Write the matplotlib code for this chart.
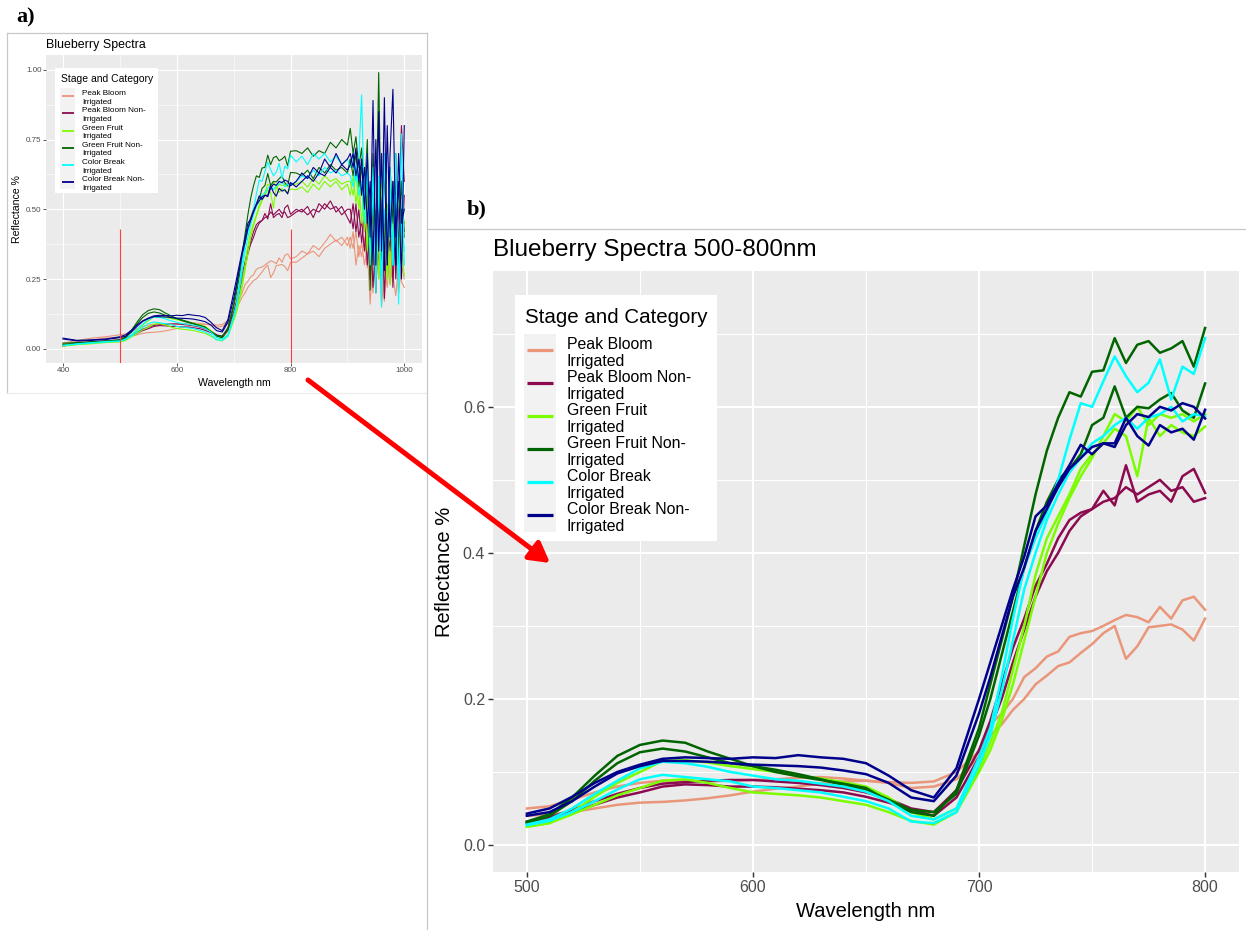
import matplotlib
matplotlib.use("Agg")
import matplotlib.pyplot as plt
from matplotlib.patches import Rectangle, FancyArrowPatch, ArrowStyle
from matplotlib.lines import Line2D
from matplotlib.ticker import FormatStrFormatter
import numpy as np

plt.rcParams['font.family'] = ['Liberation Sans', 'DejaVu Sans']

W, H = 1246, 930

# wavelength grid (nm) shared by all spectra
wavelength = [400, 425, 450, 475,
              500, 510, 520, 530, 540, 550, 560, 570, 580, 590, 600,
              610, 620, 630, 640, 650, 660, 670, 680, 690, 700,
              705, 710, 715, 720, 725, 730, 735, 740, 745, 750,
              755, 760, 765, 770, 775, 780, 785, 790, 795, 800,
              810, 820, 830, 840, 850, 860, 870, 880, 890, 900,
              905, 910, 915, 920, 925, 930, 935, 940, 945, 950,
              955, 960, 965, 970, 975, 980, 985, 990, 995, 1000]

# Peak Bloom, irrigated (two samples)
pb_irr_a = [0.020, 0.030, 0.038, 0.043,
            0.050, 0.053, 0.062, 0.072, 0.080, 0.085, 0.088, 0.088, 0.087, 0.088, 0.089,
            0.090, 0.092, 0.093, 0.091, 0.088, 0.086, 0.085, 0.087, 0.100, 0.128,
            0.165, 0.180, 0.200, 0.230, 0.242, 0.258, 0.265, 0.285, 0.290, 0.293,
            0.300, 0.308, 0.315, 0.312, 0.305, 0.326, 0.310, 0.335, 0.340, 0.322,
            0.330, 0.350, 0.340, 0.370, 0.355, 0.380, 0.410, 0.385, 0.400, 0.370,
            0.40, 0.36, 0.42, 0.33, 0.38, 0.30, 0.36, 0.16, 0.33, 0.28,
            0.38, 0.15, 0.30, 0.22, 0.35, 0.26, 0.19, 0.30, 0.24, 0.22]
pb_irr_b = [0.015, 0.025, 0.032, 0.038,
            0.040, 0.042, 0.045, 0.050, 0.055, 0.058, 0.059, 0.061, 0.064, 0.068, 0.073,
            0.077, 0.080, 0.084, 0.087, 0.088, 0.085, 0.078, 0.080, 0.090, 0.120,
            0.150, 0.165, 0.185, 0.200, 0.220, 0.232, 0.245, 0.250, 0.263, 0.275,
            0.290, 0.300, 0.255, 0.272, 0.298, 0.300, 0.302, 0.295, 0.280, 0.310,
            0.310, 0.325, 0.340, 0.350, 0.330, 0.360, 0.375, 0.390, 0.370, 0.400,
            0.36, 0.42, 0.30, 0.37, 0.33, 0.40, 0.29, 0.34, 0.20, 0.37,
            0.25, 0.32, 0.17, 0.35, 0.23, 0.30, 0.36, 0.20, 0.30, 0.25]

# Peak Bloom, non-irrigated
pb_non_a = [0.010, 0.020, 0.025, 0.028,
            0.032, 0.038, 0.048, 0.060, 0.070, 0.078, 0.084, 0.086, 0.088, 0.089, 0.089,
            0.087, 0.085, 0.082, 0.078, 0.072, 0.063, 0.050, 0.045, 0.075, 0.130,
            0.170, 0.220, 0.270, 0.310, 0.355, 0.385, 0.420, 0.445, 0.455, 0.460,
            0.485, 0.465, 0.520, 0.470, 0.480, 0.485, 0.470, 0.505, 0.515, 0.482,
            0.50, 0.49, 0.51, 0.47, 0.52, 0.50, 0.53, 0.49, 0.51, 0.47,
            0.45, 0.52, 0.42, 0.50, 0.38, 0.48, 0.30, 0.45, 0.22, 0.40,
            0.30, 0.55, 0.18, 0.45, 0.35, 0.60, 0.25, 0.50, 0.80, 0.60]
pb_non_b = [0.010, 0.018, 0.022, 0.026,
            0.030, 0.035, 0.045, 0.055, 0.065, 0.072, 0.080, 0.083, 0.082, 0.080, 0.080,
            0.079, 0.077, 0.075, 0.072, 0.066, 0.058, 0.048, 0.040, 0.065, 0.120,
            0.160, 0.200, 0.250, 0.295, 0.340, 0.375, 0.400, 0.430, 0.450, 0.460,
            0.470, 0.475, 0.490, 0.480, 0.490, 0.500, 0.485, 0.490, 0.470, 0.475,
            0.49, 0.50, 0.48, 0.50, 0.49, 0.52, 0.50, 0.51, 0.48, 0.50,
            0.50, 0.43, 0.52, 0.40, 0.46, 0.35, 0.48, 0.25, 0.42, 0.20,
            0.50, 0.35, 0.45, 0.30, 0.55, 0.22, 0.50, 0.40, 0.30, 0.55]

# Green Fruit, irrigated
gf_irr_a = [0.010, 0.015, 0.020, 0.025,
            0.025, 0.030, 0.045, 0.066, 0.085, 0.100, 0.115, 0.116, 0.113, 0.108, 0.104,
            0.100, 0.095, 0.091, 0.086, 0.080, 0.065, 0.045, 0.035, 0.050, 0.105,
            0.140, 0.180, 0.240, 0.300, 0.370, 0.420, 0.450, 0.480, 0.515, 0.535,
            0.550, 0.570, 0.560, 0.505, 0.585, 0.560, 0.575, 0.565, 0.560, 0.573,
            0.57, 0.58, 0.56, 0.59, 0.57, 0.60, 0.58, 0.60, 0.57, 0.59,
            0.55, 0.62, 0.52, 0.60, 0.45, 0.58, 0.35, 0.55, 0.30, 0.50,
            0.25, 0.60, 0.40, 0.52, 0.23, 0.48, 0.35, 0.55, 0.40, 0.26]
gf_irr_b = [0.010, 0.015, 0.018, 0.022,
            0.025, 0.030, 0.042, 0.055, 0.068, 0.078, 0.088, 0.090, 0.085, 0.078, 0.072,
            0.070, 0.068, 0.065, 0.060, 0.055, 0.045, 0.033, 0.028, 0.045, 0.100,
            0.130, 0.170, 0.220, 0.280, 0.340, 0.400, 0.440, 0.475, 0.505, 0.530,
            0.560, 0.590, 0.580, 0.600, 0.575, 0.590, 0.585, 0.590, 0.580, 0.590,
            0.59, 0.60, 0.58, 0.61, 0.59, 0.62, 0.60, 0.61, 0.59, 0.60,
            0.60, 0.55, 0.63, 0.50, 0.60, 0.42, 0.55, 0.30, 0.50, 0.38,
            0.58, 0.30, 0.50, 0.25, 0.55, 0.35, 0.60, 0.30, 0.50, 0.45]

# Green Fruit, non-irrigated
gf_non_a = [0.020, 0.022, 0.025, 0.028,
            0.032, 0.042, 0.065, 0.095, 0.122, 0.137, 0.143, 0.140, 0.128, 0.118, 0.108,
            0.100, 0.094, 0.089, 0.084, 0.078, 0.060, 0.045, 0.040, 0.075, 0.160,
            0.220, 0.280, 0.340, 0.410, 0.480, 0.540, 0.585, 0.620, 0.614, 0.648,
            0.650, 0.694, 0.660, 0.685, 0.690, 0.674, 0.680, 0.690, 0.655, 0.708,
            0.71, 0.70, 0.72, 0.69, 0.71, 0.70, 0.74, 0.72, 0.75, 0.73,
            0.79, 0.70, 0.76, 0.65, 0.72, 0.55, 0.75, 0.21, 0.60, 0.40,
            0.99, 0.35, 0.70, 0.30, 0.65, 0.45, 0.70, 0.30, 0.60, 0.42]
gf_non_b = [0.015, 0.020, 0.023, 0.026,
            0.030, 0.040, 0.060, 0.088, 0.112, 0.127, 0.132, 0.128, 0.120, 0.112, 0.108,
            0.103, 0.097, 0.090, 0.082, 0.075, 0.062, 0.048, 0.045, 0.070, 0.150,
            0.200, 0.260, 0.320, 0.380, 0.430, 0.470, 0.500, 0.515, 0.535, 0.575,
            0.585, 0.628, 0.585, 0.600, 0.598, 0.610, 0.619, 0.595, 0.585, 0.632,
            0.63, 0.62, 0.64, 0.61, 0.65, 0.63, 0.66, 0.64, 0.65, 0.63,
            0.68, 0.62, 0.70, 0.58, 0.65, 0.50, 0.62, 0.30, 0.70, 0.35,
            0.60, 0.25, 0.65, 0.40, 0.55, 0.30, 0.60, 0.35, 0.50, 0.40]

# Color Break, irrigated
cb_irr_a = [0.012, 0.018, 0.022, 0.026,
            0.028, 0.035, 0.050, 0.070, 0.088, 0.105, 0.114, 0.112, 0.107, 0.100, 0.095,
            0.090, 0.088, 0.084, 0.080, 0.073, 0.060, 0.040, 0.035, 0.050, 0.120,
            0.160, 0.230, 0.310, 0.380, 0.420, 0.455, 0.500, 0.555, 0.605, 0.600,
            0.635, 0.669, 0.642, 0.620, 0.633, 0.665, 0.610, 0.655, 0.645, 0.694,
            0.67, 0.69, 0.66, 0.70, 0.68, 0.70, 0.67, 0.69, 0.66, 0.68,
            0.65, 0.70, 0.60, 0.68, 0.91, 0.50, 0.70, 0.30, 0.65, 0.20,
            0.60, 0.15, 0.70, 0.35, 0.60, 0.30, 0.70, 0.16, 0.77, 0.30]
cb_irr_b = [0.012, 0.016, 0.020, 0.024,
            0.027, 0.033, 0.045, 0.060, 0.076, 0.090, 0.096, 0.093, 0.090, 0.087, 0.080,
            0.078, 0.075, 0.072, 0.066, 0.060, 0.050, 0.032, 0.030, 0.045, 0.110,
            0.150, 0.210, 0.280, 0.350, 0.400, 0.445, 0.480, 0.510, 0.530, 0.550,
            0.560, 0.575, 0.585, 0.570, 0.585, 0.590, 0.600, 0.580, 0.590, 0.587,
            0.60, 0.62, 0.61, 0.64, 0.62, 0.65, 0.63, 0.64, 0.62, 0.63,
            0.62, 0.58, 0.66, 0.55, 0.60, 0.45, 0.65, 0.40, 0.55, 0.30,
            0.62, 0.25, 0.50, 0.40, 0.65, 0.30, 0.55, 0.25, 0.45, 0.35]

# Color Break, non-irrigated
cb_non_a = [0.038, 0.030, 0.032, 0.035,
            0.043, 0.050, 0.066, 0.085, 0.100, 0.110, 0.118, 0.120, 0.119, 0.118, 0.120,
            0.119, 0.123, 0.120, 0.118, 0.112, 0.095, 0.075, 0.065, 0.105, 0.200,
            0.250, 0.300, 0.350, 0.395, 0.450, 0.465, 0.495, 0.520, 0.548, 0.535,
            0.550, 0.545, 0.575, 0.590, 0.586, 0.600, 0.595, 0.605, 0.600, 0.584,
            0.60, 0.63, 0.61, 0.65, 0.63, 0.68, 0.65, 0.70, 0.66, 0.68,
            0.70, 0.65, 0.72, 0.60, 0.68, 0.50, 0.70, 0.40, 0.89, 0.30,
            0.85, 0.35, 0.90, 0.30, 0.70, 0.93, 0.40, 0.60, 0.25, 0.80]
cb_non_b = [0.035, 0.028, 0.030, 0.033,
            0.040, 0.045, 0.060, 0.080, 0.098, 0.108, 0.115, 0.115, 0.114, 0.112, 0.110,
            0.109, 0.108, 0.106, 0.102, 0.097, 0.085, 0.065, 0.060, 0.095, 0.180,
            0.230, 0.285, 0.340, 0.380, 0.430, 0.460, 0.490, 0.515, 0.530, 0.545,
            0.550, 0.550, 0.585, 0.560, 0.547, 0.575, 0.565, 0.570, 0.555, 0.596,
            0.58, 0.60, 0.62, 0.60, 0.63, 0.62, 0.65, 0.63, 0.66, 0.64,
            0.66, 0.70, 0.62, 0.68, 0.55, 0.65, 0.45, 0.60, 0.30, 0.75,
            0.35, 0.70, 0.28, 0.80, 0.40, 0.60, 0.30, 0.70, 0.45, 0.50]

categories = [("Peak Bloom", "Irrigated"), ("Peak Bloom Non-", "Irrigated"),
              ("Green Fruit", "Irrigated"), ("Green Fruit Non-", "Irrigated"),
              ("Color Break", "Irrigated"), ("Color Break Non-", "Irrigated")]
colors = ["#E9967A", "#8B0A50", "#7CFC00", "#006400", "#00FFFF", "#00008B"]
samples = [[pb_irr_a, pb_irr_b], [pb_non_a, pb_non_b], [gf_irr_a, gf_irr_b],
           [gf_non_a, gf_non_b], [cb_irr_a, cb_irr_b], [cb_non_a, cb_non_b]]


def fbox(x0, y0, x1, y1):
    return [x0 / W, 1 - y1 / H, (x1 - x0) / W, (y1 - y0) / H]


def fx(x):
    return x / W


def fy(y):
    return 1 - y / H


def ftext(x, y, s, **kw):
    fig.text(fx(x), fy(y), s, **kw)


def fline(xs, ys, **kw):
    fig.add_artist(Line2D([fx(v) for v in xs], [fy(v) for v in ys],
                          transform=fig.transFigure, **kw))


def frect(x0, y0, x1, y1, **kw):
    fig.add_artist(Rectangle((fx(x0), fy(y1)), (x1 - x0) / W, (y1 - y0) / H,
                             transform=fig.transFigure, **kw))


def style_axes(ax, major_lw, minor_lw, tick_len, tick_size, pad):
    ax.set_facecolor('#EBEBEB')
    for s in ax.spines.values():
        s.set_visible(False)
    ax.set_axisbelow(True)
    ax.grid(which='major', color='white', lw=major_lw)
    ax.grid(which='minor', color='white', lw=minor_lw)
    ax.tick_params(which='major', length=tick_len, width=tick_len / 3.5,
                   color='#333333', labelsize=tick_size, labelcolor='#4D4D4D', pad=pad)
    ax.tick_params(which='minor', length=0)


def draw_legend(box, title_pos, title_size, key_col, key_x, key_y0, step,
                key_lw, label_x, label_size, dy1, dy2):
    frect(*box, facecolor='white', edgecolor='none', zorder=5)
    ftext(title_pos[0], title_pos[1], "Stage and Category", size=title_size,
          va='baseline', zorder=6)
    frect(*key_col, facecolor='#F2F2F2', edgecolor='none', zorder=6)
    for i, ((l1, l2), c) in enumerate(zip(categories, colors)):
        ky = key_y0 + step * i
        fline(key_x, [ky, ky], color=c, lw=key_lw, solid_capstyle='butt', zorder=7)
        ftext(label_x, ky + dy1, l1, size=label_size, va='baseline', zorder=7)
        ftext(label_x, ky + dy2, l2, size=label_size, va='baseline', zorder=7)


fig = plt.figure(figsize=(W / 100, H / 100), dpi=100)
wl = np.array(wavelength)

# ---- panel a: full range 400-1000 nm ----
ax_a = fig.add_axes(fbox(45.7, 55, 421.7, 362.7))
for c, reps in zip(colors, samples):
    for r in reps:
        ax_a.plot(wl, r, color=c, lw=0.8)
ax_a.vlines([500, 800], -0.05, 0.428, color='#FF3B3B', lw=0.8, zorder=5)
ax_a.set_xlim(369.6, 1030.6)
ax_a.set_ylim(-0.05, 1.053)
ax_a.set_xticks([400, 600, 800, 1000])
ax_a.set_xticks([500, 700, 900], minor=True)
ax_a.set_yticks([0, 0.25, 0.5, 0.75, 1.0])
ax_a.set_yticks([0.125, 0.375, 0.625, 0.875], minor=True)
ax_a.yaxis.set_major_formatter(FormatStrFormatter('%.2f'))
style_axes(ax_a, 0.8, 0.4, 2.0, 5.8, 1.0)

ftext(46, 47.7, "Blueberry Spectra", size=8.9, va='baseline')
ftext(234, 386.5, "Wavelength nm", size=7.6, ha='center', va='baseline')
ftext(16.7, 209, "Reflectance %", size=7.6, rotation=90, ha='center', va='center')

draw_legend((55, 68, 158, 193), (61, 81.7), 7.5, (60, 88, 75, 189), [62, 74],
            96, 17.25, 1.3, 82, 5.9, -1, 7.5)

# ---- panel b: zoom on 500-800 nm ----
ax_b = fig.add_axes(fbox(493, 271, 1239, 872))
sel = (wl >= 500) & (wl <= 800)
for c, reps in zip(colors, samples):
    for r in reps:
        ax_b.plot(wl[sel], np.array(r)[sel], color=c, lw=1.8)
ax_b.set_xlim(485, 815)
ax_b.set_ylim(-0.037, 0.786)
ax_b.set_xticks([500, 600, 700, 800])
ax_b.set_xticks([550, 650, 750], minor=True)
ax_b.set_yticks([0, 0.2, 0.4, 0.6])
ax_b.set_yticks([0.1, 0.3, 0.5, 0.7], minor=True)
ax_b.yaxis.set_major_formatter(FormatStrFormatter('%.1f'))
style_axes(ax_b, 1.5, 0.75, 3.6, 11.5, 2.0)

ftext(493, 256, "Blueberry Spectra 500-800nm", size=17.5, va='baseline')
ftext(866, 917, "Wavelength nm", size=14.5, ha='center', va='baseline')
ftext(445, 571.5, "Reflectance %", size=14.5, rotation=90, ha='center', va='center')

draw_legend((515, 295, 717, 541), (525, 323.3), 14.8, (524, 334, 556, 532), [527, 553],
            350.3, 33, 2.3, 567, 11.4, -1, 15.7)

# ---- panel frames, labels and arrow ----
fline([7, 427.5], [33, 33], color='#C8C8C8', lw=0.9)
fline([7, 7], [33, 393], color='#C8C8C8', lw=0.9)
fline([7, 427.5], [393, 393], color='#EEEEEE', lw=0.9)
fline([427.5, 427.5], [33, 930], color='#C8C8C8', lw=0.9)
fline([427.5, 1246], [229, 229], color='#C8C8C8', lw=0.9)

ftext(26, 17, "a)", family='Liberation Serif', weight='bold', size=16, ha='center', va='center')
ftext(477, 209, "b)", family='Liberation Serif', weight='bold', size=16, ha='center', va='center')

arrow = FancyArrowPatch((fx(308), fy(380)), (fx(550), fy(563)), transform=fig.transFigure,
                        arrowstyle=ArrowStyle('-|>', head_length=0.8, head_width=0.45),
                        mutation_scale=15, lw=3.6, color='red', shrinkA=0, shrinkB=0,
                        zorder=10)
fig.add_artist(arrow)

fig.savefig("out.png", dpi=100)
